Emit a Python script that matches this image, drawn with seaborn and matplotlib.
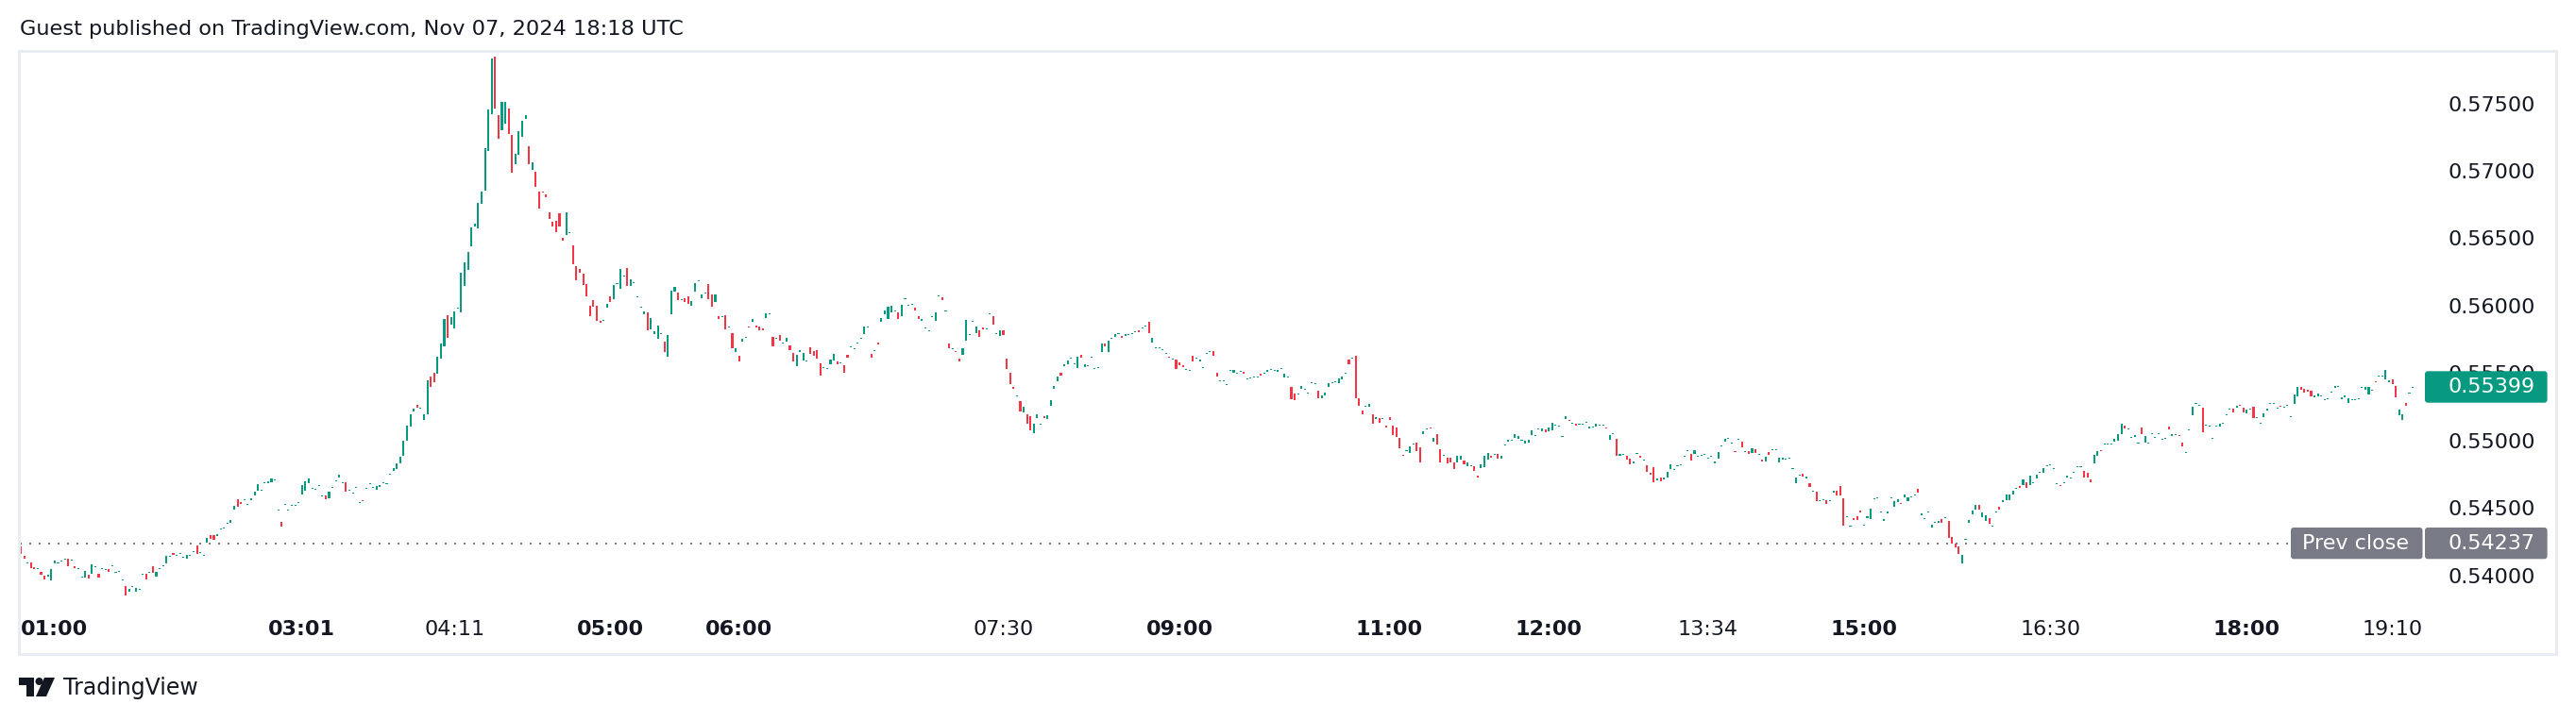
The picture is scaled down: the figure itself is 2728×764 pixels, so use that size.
import numpy as np
import pandas as pd
import seaborn as sns
import matplotlib.pyplot as plt
from matplotlib.patches import Rectangle, FancyBboxPatch, Polygon, Circle
from matplotlib.transforms import IdentityTransform

# 1-minute candles, left to right
opens = [
    0.54214, 0.54144, 0.54093, 0.54097, 0.54060, 0.54051, 0.54025, 0.53997, 0.53990, 0.53964,
    0.54090, 0.54093, 0.54104, 0.54121, 0.54123, 0.54114, 0.54067, 0.54051, 0.53988, 0.53985,
    0.54004, 0.54013, 0.54065, 0.54011, 0.54051, 0.54044, 0.54046, 0.54072, 0.54018, 0.54025,
    0.53967, 0.53920, 0.53880, 0.53918, 0.53880, 0.53897, 0.54009, 0.54009, 0.54018, 0.54067,
    0.53992, 0.54051, 0.54072, 0.54090, 0.54142, 0.54165, 0.54149, 0.54163, 0.54135, 0.54125,
    0.54149, 0.54177, 0.54221, 0.54170, 0.54149, 0.54244, 0.54298, 0.54298, 0.54293, 0.54340,
    0.54347, 0.54387, 0.54391, 0.54489, 0.54564, 0.54545, 0.54562, 0.54527, 0.54557, 0.54592,
    0.54627, 0.54632, 0.54688, 0.54685, 0.54692, 0.54704, 0.54480, 0.54396, 0.54527, 0.54480,
    0.54520, 0.54520, 0.54536, 0.54601, 0.54627, 0.54685, 0.54646, 0.54639, 0.54662, 0.54590,
    0.54592, 0.54573, 0.54653, 0.54702, 0.54725, 0.54688, 0.54690, 0.54632, 0.54611, 0.54653,
    0.54536, 0.54555, 0.54646, 0.54681, 0.54653, 0.54636, 0.54657, 0.54688, 0.54681, 0.54751,
    0.54774, 0.54790, 0.54832, 0.54888, 0.54996, 0.55101, 0.55217, 0.55264, 0.55241, 0.55154,
    0.55196, 0.55472, 0.55500, 0.55497, 0.55607, 0.55700, 0.55929, 0.55859, 0.55833, 0.55983,
    0.55952, 0.56148, 0.56267, 0.56442, 0.56587, 0.56575, 0.56757, 0.56855, 0.57149, 0.57422,
    0.57847, 0.57413, 0.57303, 0.57352, 0.57462, 0.57266, 0.57051, 0.57121, 0.57254, 0.57387,
    0.57182, 0.57009, 0.56993, 0.56846, 0.56844, 0.56827, 0.56692, 0.56622, 0.56629, 0.56685,
    0.56505, 0.56526, 0.56543, 0.56447, 0.56293, 0.56272, 0.56237, 0.56160, 0.55999, 0.56041,
    0.55999, 0.55887, 0.55894, 0.55987, 0.56069, 0.56050, 0.56167, 0.56127, 0.56223, 0.56279,
    0.56148, 0.56174, 0.56069, 0.55992, 0.55938, 0.55950, 0.55826, 0.55791, 0.55756, 0.55789,
    0.55733, 0.55623, 0.55938, 0.56106, 0.56097, 0.56048, 0.56055, 0.56069, 0.56001, 0.56106,
    0.56186, 0.56055, 0.56095, 0.56160, 0.56083, 0.56027, 0.55922, 0.55920, 0.55929, 0.55843,
    0.55796, 0.55656, 0.55628, 0.55733, 0.55766, 0.55843, 0.55880, 0.55852, 0.55845, 0.55831,
    0.55908, 0.55941, 0.55768, 0.55759, 0.55782, 0.55724, 0.55733, 0.55705, 0.55649, 0.55551,
    0.55656, 0.55593, 0.55591, 0.55691, 0.55663, 0.55670, 0.55572, 0.55542, 0.55535, 0.55565,
    0.55593, 0.55586, 0.55577, 0.55558, 0.55635, 0.55696, 0.55682, 0.55724, 0.55759, 0.55789,
    0.55843, 0.55642, 0.55668, 0.55726, 0.55880, 0.55936, 0.55901, 0.55950, 0.55962, 0.55950,
    0.55922, 0.56053, 0.56004, 0.56011, 0.55985, 0.55922, 0.55887, 0.55836, 0.55815, 0.55920,
    0.55887, 0.56074, 0.56062, 0.55962, 0.55719, 0.55682, 0.55661, 0.55607, 0.55635, 0.55740,
    0.55787, 0.55885, 0.55796, 0.55817, 0.55838, 0.55829, 0.55941, 0.55922, 0.55794, 0.55775,
    0.55817, 0.55607, 0.55502, 0.55397, 0.55332, 0.55292, 0.55208, 0.55194, 0.55180, 0.55054,
    0.55166, 0.55122, 0.55180, 0.55159, 0.55257, 0.55383, 0.55439, 0.55502, 0.55551, 0.55565,
    0.55612, 0.55570, 0.55537, 0.55635, 0.55544, 0.55556, 0.55619, 0.55535, 0.55542, 0.55656,
    0.55719, 0.55656, 0.55759, 0.55768, 0.55794, 0.55775, 0.55775, 0.55787, 0.55794, 0.55808,
    0.55817, 0.55836, 0.55850, 0.55880, 0.55726, 0.55689, 0.55689, 0.55675, 0.55647, 0.55619,
    0.55605, 0.55600, 0.55579, 0.55558, 0.55528, 0.55521, 0.55628, 0.55612, 0.55586, 0.55542,
    0.55647, 0.55661, 0.55663, 0.55502, 0.55444, 0.55444, 0.55416, 0.55521, 0.55502, 0.55500,
    0.55514, 0.55509, 0.55458, 0.55465, 0.55472, 0.55472, 0.55495, 0.55500, 0.55509, 0.55528,
    0.55521, 0.55509, 0.55535, 0.55467, 0.55472, 0.55397, 0.55348, 0.55346, 0.55383, 0.55381,
    0.55353, 0.55430, 0.55423, 0.55369, 0.55313, 0.55334, 0.55397, 0.55430, 0.55437, 0.55425,
    0.55453, 0.55495, 0.55600, 0.55612, 0.55628, 0.55313, 0.55222, 0.55255, 0.55250, 0.55194,
    0.55159, 0.55166, 0.55164, 0.55110, 0.55173, 0.55110, 0.55096, 0.55019, 0.54891, 0.54926,
    0.54907, 0.54975, 0.54984, 0.54949, 0.55047, 0.55087, 0.55094, 0.54991, 0.55047, 0.54935,
    0.54891, 0.54872, 0.54872, 0.54837, 0.54837, 0.54858, 0.54851, 0.54809, 0.54814, 0.54809,
    0.54739, 0.54795, 0.54802, 0.54858, 0.54886, 0.54898, 0.54900, 0.54865, 0.54968, 0.54991,
    0.55003, 0.55019, 0.55012, 0.55003, 0.54977, 0.54984, 0.55040, 0.55038, 0.55087, 0.55068,
    0.55082, 0.55068, 0.55075, 0.55115, 0.55108, 0.55031, 0.55159, 0.55150, 0.55129, 0.55124,
    0.55122, 0.55122, 0.55136, 0.55089, 0.55101, 0.55103, 0.55115, 0.55115, 0.55094, 0.55005,
    0.55052, 0.55012, 0.54886, 0.54898, 0.54886, 0.54865, 0.54830, 0.54905, 0.54886, 0.54856,
    0.54816, 0.54760, 0.54802, 0.54704, 0.54725, 0.54711, 0.54725, 0.54788, 0.54786, 0.54814,
    0.54821, 0.54884, 0.54926, 0.54900, 0.54900, 0.54884, 0.54891, 0.54898, 0.54870, 0.54884,
    0.54830, 0.54865, 0.54961, 0.54991, 0.55017, 0.54982, 0.54919, 0.55010, 0.54991, 0.54919,
    0.54921, 0.54907, 0.54935, 0.54898, 0.54858, 0.54844, 0.54914, 0.54933, 0.54933, 0.54837,
    0.54858, 0.54863, 0.54870, 0.54793, 0.54683, 0.54744, 0.54753, 0.54718, 0.54683, 0.54625,
    0.54620, 0.54555, 0.54562, 0.54557, 0.54555, 0.54613, 0.54627, 0.54662, 0.54571, 0.54436,
    0.54366, 0.54424, 0.54438, 0.54480, 0.54373, 0.54424, 0.54417, 0.54569, 0.54576, 0.54471,
    0.54403, 0.54459, 0.54576, 0.54508, 0.54543, 0.54534, 0.54578, 0.54550, 0.54583, 0.54597,
    0.54641, 0.54445, 0.54422, 0.54471, 0.54354, 0.54394, 0.54389, 0.54417, 0.54429, 0.54403,
    0.54284, 0.54235, 0.54214, 0.54088, 0.54268, 0.54389, 0.54452, 0.54487, 0.54522, 0.54431,
    0.54403, 0.54424, 0.54366, 0.54471, 0.54508, 0.54543, 0.54557, 0.54557, 0.54599, 0.54646,
    0.54662, 0.54669, 0.54690, 0.54669, 0.54688, 0.54718, 0.54765, 0.54760, 0.54814, 0.54821,
    0.54793, 0.54681, 0.54667, 0.54688, 0.54725, 0.54723, 0.54765, 0.54807, 0.54807, 0.54774,
    0.54760, 0.54711, 0.54830, 0.54886, 0.54926, 0.54975, 0.54975, 0.54975, 0.54991, 0.54998,
    0.55047, 0.55110, 0.55087, 0.55024, 0.55026, 0.54982, 0.55096, 0.54984, 0.54982, 0.55052,
    0.55024, 0.55052, 0.55010, 0.55017, 0.55103, 0.55033, 0.55045, 0.55038, 0.54984, 0.54912,
    0.55080, 0.55187, 0.55276, 0.55262, 0.55243, 0.55115, 0.55108, 0.55017, 0.55108, 0.55103,
    0.55129, 0.55192, 0.55234, 0.55236, 0.55243, 0.55262, 0.55243, 0.55201, 0.55234, 0.55250,
    0.55171, 0.55129, 0.55173, 0.55222, 0.55276, 0.55276, 0.55241, 0.55255, 0.55248, 0.55262,
    0.55178, 0.55271, 0.55327, 0.55397, 0.55383, 0.55376, 0.55369, 0.55320, 0.55327, 0.55332,
    0.55304, 0.55311, 0.55360, 0.55390, 0.55402, 0.55306, 0.55320, 0.55278, 0.55304, 0.55304,
    0.55311, 0.55395, 0.55376, 0.55341, 0.55374, 0.55437, 0.55479, 0.55479, 0.55453, 0.55432,
    0.55453, 0.55404, 0.55187, 0.55152, 0.55278, 0.55353, 0.55395,
]

closes = [
    0.54158, 0.54125, 0.54093, 0.54055, 0.54048, 0.54051, 0.54006, 0.53971, 0.54004, 0.54046,
    0.54109, 0.54093, 0.54111, 0.54121, 0.54069, 0.54114, 0.54055, 0.54051, 0.53988, 0.54032,
    0.53978, 0.54081, 0.54065, 0.53985, 0.54051, 0.54044, 0.54027, 0.54072, 0.54018, 0.54025,
    0.53967, 0.53852, 0.53899, 0.53918, 0.53906, 0.53897, 0.54009, 0.53971, 0.54018, 0.54020,
    0.54025, 0.54051, 0.54072, 0.54142, 0.54142, 0.54151, 0.54149, 0.54163, 0.54135, 0.54151,
    0.54149, 0.54177, 0.54160, 0.54170, 0.54149, 0.54277, 0.54270, 0.54265, 0.54305, 0.54340,
    0.54347, 0.54387, 0.54410, 0.54515, 0.54508, 0.54531, 0.54562, 0.54527, 0.54571, 0.54620,
    0.54676, 0.54632, 0.54688, 0.54697, 0.54718, 0.54704, 0.54480, 0.54363, 0.54527, 0.54480,
    0.54520, 0.54520, 0.54536, 0.54669, 0.54697, 0.54718, 0.54646, 0.54639, 0.54662, 0.54590,
    0.54564, 0.54620, 0.54653, 0.54702, 0.54748, 0.54688, 0.54620, 0.54632, 0.54611, 0.54653,
    0.54536, 0.54554, 0.54646, 0.54681, 0.54653, 0.54662, 0.54671, 0.54688, 0.54681, 0.54751,
    0.54797, 0.54830, 0.54879, 0.54998, 0.55110, 0.55194, 0.55234, 0.55243, 0.55241, 0.55194,
    0.55446, 0.55397, 0.55434, 0.55621, 0.55719, 0.55901, 0.55761, 0.55915, 0.55957, 0.55983,
    0.56244, 0.56319, 0.56398, 0.56580, 0.56606, 0.56762, 0.56844, 0.57168, 0.57455, 0.57833,
    0.57464, 0.57240, 0.57511, 0.57511, 0.57275, 0.56988, 0.57124, 0.57294, 0.57371, 0.57413,
    0.57051, 0.57061, 0.56883, 0.56722, 0.56843, 0.56806, 0.56645, 0.56589, 0.56547, 0.56589,
    0.56484, 0.56692, 0.56543, 0.56309, 0.56190, 0.56246, 0.56155, 0.56071, 0.55924, 0.55990,
    0.55889, 0.55875, 0.55894, 0.56013, 0.56029, 0.56153, 0.56167, 0.56272, 0.56223, 0.56148,
    0.56195, 0.56174, 0.56069, 0.55992, 0.55957, 0.55819, 0.55910, 0.55810, 0.55852, 0.55789,
    0.55658, 0.55782, 0.56111, 0.56139, 0.56043, 0.56048, 0.56029, 0.56015, 0.56034, 0.56167,
    0.56186, 0.56083, 0.56095, 0.56048, 0.55992, 0.56083, 0.55901, 0.55920, 0.55824, 0.55843,
    0.55684, 0.55684, 0.55586, 0.55754, 0.55766, 0.55842, 0.55901, 0.55838, 0.55817, 0.55817,
    0.55943, 0.55941, 0.55698, 0.55759, 0.55740, 0.55724, 0.55761, 0.55670, 0.55586, 0.55635,
    0.55670, 0.55649, 0.55591, 0.55642, 0.55628, 0.55607, 0.55481, 0.55542, 0.55535, 0.55600,
    0.55642, 0.55565, 0.55577, 0.55502, 0.55614, 0.55696, 0.55682, 0.55724, 0.55759, 0.55845,
    0.55843, 0.55614, 0.55668, 0.55712, 0.55908, 0.55964, 0.55992, 0.55999, 0.55962, 0.55901,
    0.56006, 0.56053, 0.56004, 0.56011, 0.55964, 0.55901, 0.55901, 0.55836, 0.55815, 0.55920,
    0.55950, 0.56074, 0.56041, 0.55962, 0.55684, 0.55682, 0.55660, 0.55586, 0.55684, 0.55894,
    0.55787, 0.55885, 0.55845, 0.55768, 0.55824, 0.55829, 0.55941, 0.55859, 0.55794, 0.55817,
    0.55782, 0.55530, 0.55418, 0.55383, 0.55332, 0.55215, 0.55250, 0.55124, 0.55075, 0.55124,
    0.55194, 0.55122, 0.55166, 0.55187, 0.55299, 0.55404, 0.55474, 0.55481, 0.55565, 0.55593,
    0.55612, 0.55570, 0.55621, 0.55614, 0.55565, 0.55556, 0.55619, 0.55535, 0.55542, 0.55719,
    0.55698, 0.55740, 0.55759, 0.55789, 0.55794, 0.55761, 0.55789, 0.55787, 0.55794, 0.55808,
    0.55803, 0.55836, 0.55850, 0.55796, 0.55761, 0.55689, 0.55689, 0.55675, 0.55647, 0.55618,
    0.55605, 0.55530, 0.55558, 0.55544, 0.55528, 0.55521, 0.55586, 0.55612, 0.55600, 0.55542,
    0.55647, 0.55661, 0.55628, 0.55474, 0.55444, 0.55444, 0.55416, 0.55521, 0.55523, 0.55500,
    0.55514, 0.55495, 0.55458, 0.55465, 0.55472, 0.55472, 0.55481, 0.55500, 0.55523, 0.55528,
    0.55521, 0.55523, 0.55535, 0.55495, 0.55472, 0.55306, 0.55299, 0.55346, 0.55404, 0.55381,
    0.55353, 0.55430, 0.55423, 0.55313, 0.55334, 0.55355, 0.55425, 0.55430, 0.55437, 0.55460,
    0.55474, 0.55495, 0.55565, 0.55612, 0.55313, 0.55257, 0.55194, 0.55255, 0.55271, 0.55124,
    0.55173, 0.55131, 0.55164, 0.55096, 0.55152, 0.55040, 0.55026, 0.54942, 0.54890, 0.54926,
    0.54956, 0.54975, 0.54921, 0.54837, 0.55068, 0.55087, 0.55093, 0.55019, 0.54970, 0.54837,
    0.54891, 0.54830, 0.54837, 0.54788, 0.54886, 0.54886, 0.54823, 0.54837, 0.54814, 0.54774,
    0.54725, 0.54823, 0.54886, 0.54907, 0.54872, 0.54898, 0.54865, 0.54886, 0.54968, 0.55005,
    0.55003, 0.55047, 0.55033, 0.55003, 0.54998, 0.55005, 0.55075, 0.55038, 0.55087, 0.55089,
    0.55061, 0.55096, 0.55131, 0.55115, 0.55108, 0.55031, 0.55180, 0.55149, 0.55129, 0.55110,
    0.55122, 0.55122, 0.55136, 0.55103, 0.55101, 0.55124, 0.55115, 0.55115, 0.55093, 0.55040,
    0.55052, 0.54886, 0.54900, 0.54898, 0.54858, 0.54823, 0.54844, 0.54905, 0.54872, 0.54856,
    0.54767, 0.54746, 0.54690, 0.54718, 0.54697, 0.54725, 0.54767, 0.54823, 0.54786, 0.54814,
    0.54821, 0.54884, 0.54926, 0.54851, 0.54928, 0.54884, 0.54891, 0.54898, 0.54870, 0.54884,
    0.54844, 0.54914, 0.54961, 0.55012, 0.55017, 0.54982, 0.54918, 0.55010, 0.54949, 0.54919,
    0.54900, 0.54942, 0.54907, 0.54898, 0.54844, 0.54879, 0.54893, 0.54933, 0.54933, 0.54872,
    0.54872, 0.54863, 0.54870, 0.54793, 0.54725, 0.54744, 0.54732, 0.54732, 0.54655, 0.54625,
    0.54550, 0.54555, 0.54562, 0.54529, 0.54555, 0.54627, 0.54592, 0.54592, 0.54368, 0.54436,
    0.54366, 0.54410, 0.54410, 0.54466, 0.54373, 0.54438, 0.54494, 0.54569, 0.54576, 0.54471,
    0.54417, 0.54473, 0.54576, 0.54550, 0.54564, 0.54533, 0.54599, 0.54578, 0.54583, 0.54597,
    0.54613, 0.54459, 0.54422, 0.54471, 0.54375, 0.54394, 0.54403, 0.54389, 0.54429, 0.54277,
    0.54235, 0.54207, 0.54158, 0.54151, 0.54268, 0.54410, 0.54480, 0.54522, 0.54487, 0.54466,
    0.54445, 0.54382, 0.54366, 0.54471, 0.54487, 0.54557, 0.54599, 0.54599, 0.54627, 0.54646,
    0.54648, 0.54711, 0.54648, 0.54739, 0.54688, 0.54746, 0.54765, 0.54795, 0.54814, 0.54821,
    0.54793, 0.54681, 0.54666, 0.54688, 0.54739, 0.54723, 0.54765, 0.54807, 0.54807, 0.54725,
    0.54725, 0.54690, 0.54893, 0.54921, 0.54925, 0.54975, 0.54975, 0.54975, 0.55012, 0.55047,
    0.55124, 0.55089, 0.55087, 0.55024, 0.55040, 0.54982, 0.55047, 0.55033, 0.54982, 0.55052,
    0.55024, 0.55052, 0.55010, 0.55017, 0.55082, 0.55047, 0.55045, 0.55037, 0.54956, 0.54912,
    0.55080, 0.55250, 0.55276, 0.55262, 0.55061, 0.55115, 0.55108, 0.55017, 0.55108, 0.55124,
    0.55129, 0.55192, 0.55234, 0.55208, 0.55257, 0.55261, 0.55208, 0.55229, 0.55234, 0.55166,
    0.55171, 0.55129, 0.55201, 0.55236, 0.55276, 0.55276, 0.55241, 0.55254, 0.55248, 0.55262,
    0.55178, 0.55341, 0.55397, 0.55376, 0.55355, 0.55362, 0.55327, 0.55334, 0.55348, 0.55332,
    0.55304, 0.55311, 0.55360, 0.55404, 0.55402, 0.55320, 0.55334, 0.55313, 0.55304, 0.55304,
    0.55311, 0.55395, 0.55397, 0.55397, 0.55374, 0.55436, 0.55479, 0.55479, 0.55523, 0.55446,
    0.55418, 0.55320, 0.55229, 0.55194, 0.55257, 0.55353, 0.55395,
]

prev_close = 0.54237
last_price = 0.55399
price_ticks = [0.540, 0.545, 0.550, 0.555, 0.560, 0.565, 0.570, 0.575]

# time labels and the bar each one sits under
time_labels = ['01:00', '03:01', '04:11', '05:00', '06:00', '07:30', '09:00',
               '11:00', '12:00', '13:34', '15:00', '16:30', '18:00', '19:10']
time_bars = [10, 83, 128, 174, 212, 290, 342, 404, 451, 498, 544, 599, 657, 700]
time_bold = [True, True, False, True, True, False, True,
             True, True, False, True, False, True, False]

title = 'Guest published on TradingView.com, Nov 07, 2024 18:18 UTC'

UP = '#089981'
DOWN = '#F23645'
TEXT = '#131722'
GREY = '#787B86'

W, H, DPI = 2728, 764, 100

sns.set_theme(style='white')
plt.rcParams['font.family'] = ['DejaVu Sans']

assert len(opens) == len(closes)
df = pd.DataFrame({'open': opens, 'close': closes})
df['bar'] = np.arange(len(df))
df['up'] = df['close'] >= df['open']

# pixel calibration of the snapshot
PX_PER_UNIT = 14284      # price scale
Y_055 = 466.7            # pixel row of 0.55
BAR_PX = 3.588           # bar spacing
BAR0_PX = 22             # centre of first bar
min_body = 1 / PX_PER_UNIT

lo = df[['open', 'close']].min(axis=1)
hi = df[['open', 'close']].max(axis=1)
body = (hi - lo).clip(lower=min_body)
bottom = np.where(hi - lo < min_body, (hi + lo) / 2 - min_body / 2, lo)

fig = plt.figure(figsize=(W / DPI, H / DPI), dpi=DPI, facecolor='white')
ax_l, ax_r, ax_t, ax_b = 21, 2566, 55, 640
ax = fig.add_axes([ax_l / W, 1 - ax_b / H, (ax_r - ax_l) / W, (ax_b - ax_t) / H])
ax.set_facecolor('white')

ax.bar(df['bar'], body, bottom=bottom, width=0.58,
       color=np.where(df['up'], UP, DOWN), linewidth=0, antialiased=False)

ax.set_xlim((ax_l - BAR0_PX) / BAR_PX, (ax_r - BAR0_PX) / BAR_PX)
ax.set_ylim(0.55 + (Y_055 - ax_b) / PX_PER_UNIT, 0.55 + (Y_055 - ax_t) / PX_PER_UNIT)

# previous close dotted line
ax.axhline(prev_close, xmin=0, xmax=(2426 - ax_l) / (ax_r - ax_l), color=GREY,
           linewidth=1.44, linestyle=(0, (1, 4)), dash_capstyle='butt')

for s in ax.spines.values():
    s.set_visible(False)
ax.grid(False)

# price scale on the right
ax.yaxis.tick_right()
ax.set_yticks(price_ticks)
ax.set_yticklabels([f'{v:.5f}' for v in price_ticks])
ax.tick_params(axis='y', length=0, pad=(2685 - ax_r) * 0.72, labelsize=16, labelcolor=TEXT)
for t in ax.yaxis.get_major_ticks():
    t.label2.set_horizontalalignment('right')

# time scale
ax.set_xticks(time_bars)
ax.set_xticklabels(time_labels)
ax.tick_params(axis='x', length=0, pad=12, labelsize=16, labelcolor=TEXT)
for lab, b in zip(ax.get_xticklabels(), time_bold):
    lab.set_fontweight('bold' if b else 'normal')

ident = IdentityTransform()


def fy(y):
    # pixel row from the top -> display y
    return H - y


# chart frame
fig.add_artist(Rectangle((19.5, fy(692.5)), 2707 - 19.5, 692.5 - 53.5, fill=False,
                         edgecolor='#E9ECF2', linewidth=2.2, transform=ident, zorder=3))

# last price badge
fig.add_artist(FancyBboxPatch((2568, fy(426.7)), 129.6, 33.4,
                              boxstyle='round,pad=0,rounding_size=3',
                              facecolor=UP, edgecolor='none', transform=ident, zorder=5))
fig.text(2685, fy(410), f'{last_price:.5f}', color='white', fontsize=16,
         ha='right', va='center', transform=ident, zorder=6)

# prev close badges
fig.add_artist(FancyBboxPatch((2426, fy(592.3)), 139.5, 33.3,
                              boxstyle='round,pad=0,rounding_size=3',
                              facecolor=GREY, edgecolor='none', transform=ident, zorder=5))
fig.add_artist(FancyBboxPatch((2568, fy(592.3)), 129.6, 33.3,
                              boxstyle='round,pad=0,rounding_size=3',
                              facecolor=GREY, edgecolor='none', transform=ident, zorder=5))
fig.text(2495, fy(575.7), 'Prev close', color='white', fontsize=16,
         ha='center', va='center', transform=ident, zorder=6)
fig.text(2685, fy(575.7), f'{prev_close:.5f}', color='white', fontsize=16,
         ha='right', va='center', transform=ident, zorder=6)

# header
fig.text(21, fy(31), title, color=TEXT, fontsize=16.2, ha='left', va='center',
         transform=ident)

# footer logo
fig.add_artist(Polygon([(20, fy(718)), (36, fy(718)), (36, fy(738)), (28, fy(738)),
                        (28, fy(726)), (20, fy(726))], closed=True,
                       facecolor=TEXT, edgecolor='none', transform=ident))
fig.add_artist(Circle((41.5, fy(722)), 4, facecolor=TEXT, edgecolor='none', transform=ident))
fig.add_artist(Polygon([(47, fy(718)), (58, fy(718)), (49, fy(738)), (38, fy(738))],
                       closed=True, facecolor=TEXT, edgecolor='none', transform=ident))
fig.text(67, fy(729), 'TradingView', color=TEXT, fontsize=17, ha='left', va='center',
         transform=ident)

fig.savefig('out.png', dpi=DPI, facecolor='white')
